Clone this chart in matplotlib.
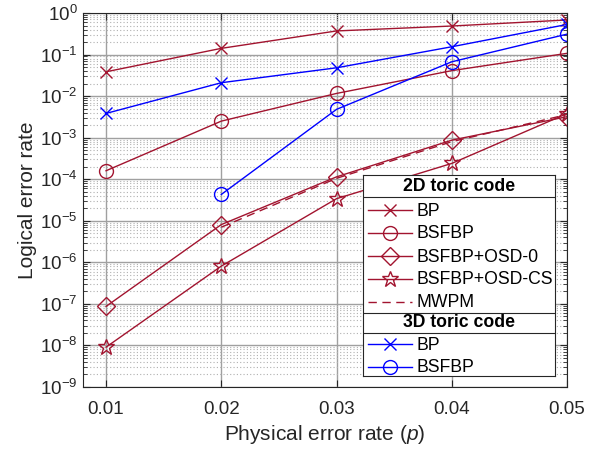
import numpy as np
import matplotlib
matplotlib.use('Agg')
import matplotlib.pyplot as plt
from matplotlib.lines import Line2D
from matplotlib.ticker import LogLocator, FixedLocator, NullFormatter

plt.rcParams['font.family'] = ['Liberation Sans', 'DejaVu Sans']
plt.rcParams['mathtext.fontset'] = 'custom'
plt.rcParams['mathtext.rm'] = 'Liberation Sans'
plt.rcParams['mathtext.it'] = 'Liberation Sans:italic'

# data
p = [0.01, 0.02, 0.03, 0.04, 0.05]
bp_2d = [0.0385, 0.141, 0.37, 0.486, 0.68]
bsfbp_2d = [1.6e-4, 0.0025, 0.0116, 0.041, 0.107]
osd0_2d = [8.7e-8, 8.1e-6, 1.14e-4, 8.7e-4, 3.2e-3]
osdcs_2d = [9.1e-9, 8.1e-7, 3.4e-5, 2.4e-4, 3.8e-3]
p_mwpm = [0.02, 0.03, 0.04, 0.05]
mwpm_2d = [7.0e-6, 1.05e-4, 8.0e-4, 3.6e-3]
bp_3d = [0.00383, 0.021, 0.048, 0.154, 0.53]
p_bsfbp_3d = [0.02, 0.03, 0.04, 0.05]
bsfbp_3d = [4.3e-5, 0.0048, 0.067, 0.31]

red = '#A2142F'
blue = '#0000FF'
dark = '#262626'

fig = plt.figure(figsize=(6.07, 4.51), dpi=100)
ax = fig.add_axes([83/607, 1-387/451, (567-83)/607, (387-13)/451])

lw = 1.0
ax.plot(p, bp_2d, color=red, lw=lw, marker='x', ms=9, mew=1)
ax.plot(p, bsfbp_2d, color=red, lw=lw, marker='o', ms=10, mfc='none', mew=1)
ax.plot(p, osd0_2d, color=red, lw=lw, marker='D', ms=9, mfc='none', mew=1)
ax.plot(p, osdcs_2d, color=red, lw=lw, marker='*', ms=12, mfc='none', mew=1)
ax.plot(p_mwpm, mwpm_2d, color=red, lw=lw, ls=(0, (6, 4)))
ax.plot(p, bp_3d, color=blue, lw=lw, marker='x', ms=9, mew=1)
ax.plot(p_bsfbp_3d, bsfbp_3d, color=blue, lw=lw, marker='o', ms=10, mfc='none', mew=1)

ax.set_yscale('log')
ax.set_xlim(0.008, 0.05)
ax.set_ylim(1e-9, 1)
ax.set_xticks([0.01, 0.02, 0.03, 0.04, 0.05])
ax.set_xticklabels(['0.01', '0.02', '0.03', '0.04', '0.05'])
ax.yaxis.set_major_locator(FixedLocator([10.0**k for k in range(-9, 1)]))
ax.yaxis.set_minor_locator(LogLocator(base=10, subs=np.arange(2, 10), numticks=100))
ax.yaxis.set_minor_formatter(NullFormatter())

ax.grid(True, which='major', axis='both', color='#a0a0a0', lw=1.0)
ax.grid(True, which='minor', axis='y', color='#b0b0b0', lw=0.8, ls=(0, (1, 2)))
ax.set_axisbelow(True)

ax.tick_params(which='both', direction='in', top=True, right=True, colors=dark,
               labelsize=13.5)
ax.tick_params(axis='x', pad=10)
ax.tick_params(axis='y', pad=4)
ax.tick_params(which='major', length=5)
ax.tick_params(which='minor', length=3)
for s in ax.spines.values():
    s.set_color(dark)
    s.set_linewidth(0.8)

ax.set_xlabel('Physical error rate ($p$)', fontsize=15, color=dark, labelpad=4)
ax.set_ylabel('Logical error rate', fontsize=15, color=dark, labelpad=2)

# legend with group headers (MATLAB style), drawn in its own little axes
lg = fig.add_axes([363/607, 1-376/451, (555-363)/607, (376-175)/451])
lg.set_xlim(363, 555)
lg.set_ylim(376, 175)
lg.set_xticks([])
lg.set_yticks([])
for s in lg.spines.values():
    s.set_color(dark)
    s.set_linewidth(0.8)
lg.set_zorder(5)

rows = [
    ('head', '2D toric code', 186.5),
    ('sep', None, 196.5),
    (dict(color=red, marker='x', ms=9), 'BP', 210),
    (dict(color=red, marker='o', ms=10, mfc='none'), 'BSFBP', 233),
    (dict(color=red, marker='D', ms=9, mfc='none'), 'BSFBP+OSD-0', 256),
    (dict(color=red, marker='*', ms=12, mfc='none'), 'BSFBP+OSD-CS', 278.5),
    (dict(color=red, ls=(0, (6, 4))), 'MWPM', 301.5),
    ('sep', None, 312.5),
    ('head', '3D toric code', 322.5),
    ('sep', None, 332.5),
    (dict(color=blue, marker='x', ms=9), 'BP', 344),
    (dict(color=blue, marker='o', ms=10, mfc='none'), 'BSFBP', 366.5),
]
for style, label, y in rows:
    if style == 'head':
        lg.text(459, y, label, ha='center', va='center', fontsize=12.7,
                fontweight='bold', color='black')
    elif style == 'sep':
        lg.axhline(y, color=dark, lw=0.8)
    else:
        line_kw = {k: v for k, v in style.items() if k in ('color', 'ls')}
        lg.add_line(Line2D([367.5, 412], [y, y], lw=lw, **line_kw))
        if 'marker' in style:
            mk = {k: v for k, v in style.items() if k != 'ls'}
            lg.plot([390], [y], ls='none', mew=1, **mk)
        lg.text(416.5, y + 1, label, ha='left', va='center', fontsize=12.7, color='black')

fig.savefig('out.png', dpi=100)
